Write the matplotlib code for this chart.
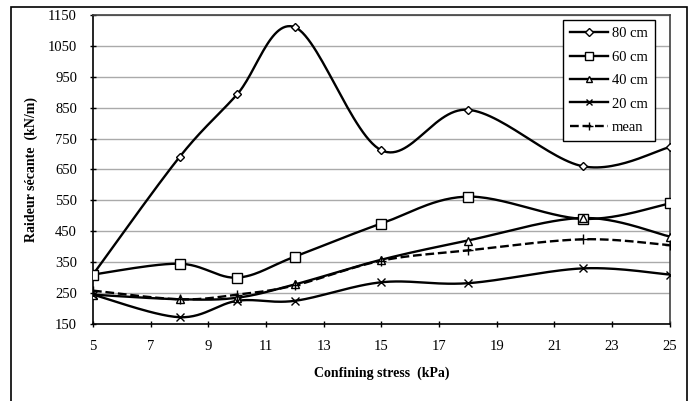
import numpy as np
import matplotlib
matplotlib.use("Agg")
import matplotlib.pyplot as plt
from matplotlib.patches import Rectangle

stress = [5, 8, 10, 12, 15, 18, 22, 25]
s80 = [310, 690, 893, 1110, 712, 843, 660, 722]
s60 = [310, 345, 300, 368, 475, 562, 490, 540]
s40 = [245, 230, 235, 278, 358, 420, 493, 433]
s20 = [245, 172, 225, 225, 285, 282, 330, 310]
smean = [258, 230, 245, 275, 355, 388, 424, 405]
labels = ["80 cm", "60 cm", "40 cm", "20 cm", "mean"]
xticks = list(range(5, 26, 2))
yticks = list(range(150, 1151, 100))

plt.rcParams['font.family'] = ['Liberation Serif', 'DejaVu Serif']


def smooth(x, y, n=30):
    P = np.column_stack([x, y]).astype(float)
    out = []
    for i in range(len(P) - 1):
        p0 = P[i]
        p3 = P[i + 1]
        pm = P[i - 1] if i > 0 else P[i]
        pp = P[i + 2] if i + 2 < len(P) else P[i + 1]
        c1 = p0 + (p3 - pm) / 6.0
        c2 = p3 - (pp - p0) / 6.0
        t = np.linspace(0, 1, n)[:, None]
        seg = ((1 - t) ** 3) * p0 + 3 * ((1 - t) ** 2) * t * c1 + 3 * (1 - t) * t ** 2 * c2 + t ** 3 * p3
        out.append(seg if i == 0 else seg[1:])
    seg = np.vstack(out)
    return seg[:, 0], seg[:, 1]


fig = plt.figure(figsize=(6.94, 4.01), dpi=100)
ax = fig.add_axes([0.134, 0.192, 0.831, 0.771])

series = [s80, s60, s40, s20, smean]
markers = ['D', 's', '^', 'x', '+']
msizes = [4.5, 6.5, 6, 6, 7]
styles = ['-', '-', '-', '-', '--']
for ys, mk, ms, ls, lab in zip(series, markers, msizes, styles, labels):
    sx, sy = smooth(stress, ys)
    ax.plot(sx, sy, color='black', lw=1.7, ls=ls, zorder=3)
    ax.plot(stress, ys, ls='none', marker=mk, ms=ms, mfc='white', mec='black', mew=1.0, zorder=4)
    ax.plot([], [], color='black', lw=1.7, ls=ls, marker=mk, ms=ms * 0.8, mfc='white', mec='black', mew=1.0, label=lab)

ax.set_xlim(5, 25)
ax.set_ylim(150, 1150)
ax.set_xticks(xticks)
ax.set_yticks(yticks)
ax.grid(axis='y', color='#aaaaaa', lw=1.0)
ax.set_axisbelow(True)
for sp in ['top', 'right']:
    ax.spines[sp].set_color('#404040')
    ax.spines[sp].set_linewidth(1.2)
for sp in ['left', 'bottom']:
    ax.spines[sp].set_color('black')
    ax.spines[sp].set_linewidth(1.2)
ax.tick_params(axis='both', labelsize=10.5, direction='inout', length=5, width=1)
ax.tick_params(axis='x', pad=9)
ax.tick_params(axis='y', pad=9)
ax.set_xlabel('Confining stress  (kPa)', fontsize=10, fontweight='bold', labelpad=10)
ax.set_ylabel('Raideur sécante  (kN/m)', fontsize=10, fontweight='bold', labelpad=7)

leg = ax.legend(loc='upper right', bbox_to_anchor=(0.974, 0.984), borderaxespad=0, fontsize=10.5,
                frameon=True, fancybox=False, edgecolor='black', handlelength=2.6, labelspacing=0.7,
                borderpad=0.5, handletextpad=0.25)
leg.get_frame().set_linewidth(1.0)
leg.get_frame().set_alpha(1)

fig.patches.append(Rectangle((11 / 694, -0.02), (687 - 11) / 694, 1.02 - 7 / 401,
                             transform=fig.transFigure, fill=False, edgecolor='black', lw=1.2))

fig.savefig('out.png', dpi=100)
